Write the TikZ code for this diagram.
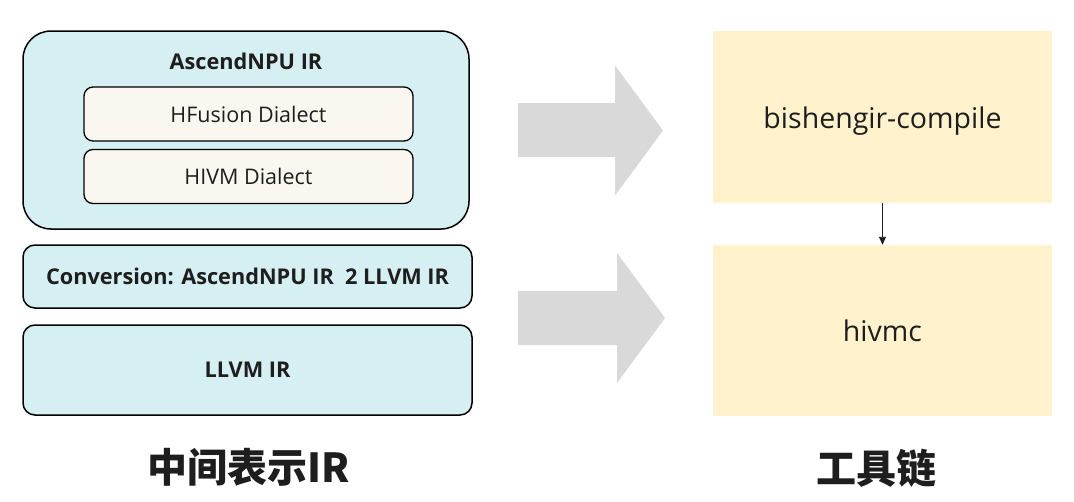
\documentclass[tikz,border=0pt]{standalone}
\usepackage{fontspec}
\setmainfont{Open Sans}
\newfontfamily\cjk{Noto Sans CJK SC}
\usetikzlibrary{arrows.meta}
\definecolor{irblue}{RGB}{213,239,243}
\definecolor{dialect}{RGB}{250,246,240}
\definecolor{toolyellow}{RGB}{255,242,204}
\definecolor{arrowgray}{RGB}{217,217,217}
\definecolor{txt}{RGB}{30,30,30}
\tikzset{
  irbox/.style={draw=black, line width=1.5pt, fill=irblue, rounded corners=12pt, inner sep=0pt},
  dialectbox/.style={draw=black, line width=1.3pt, fill=dialect, rounded corners=9pt, inner sep=0pt,
    minimum width=329pt, minimum height=54pt, font=\fontsize{21.5}{25}\selectfont, text=txt},
  toolbox/.style={fill=toolyellow, inner sep=0pt, minimum width=339pt, minimum height=172pt},
  tooltext/.style={font=\fontsize{28.5}{32}\selectfont, text=txt},
  bigarrow/.style={fill=arrowgray, draw=none},
  boldlabel/.style={font=\fontsize{21.7}{25}\selectfont\bfseries, text=txt},
  heading/.style={font=\cjk\fontsize{40}{44}\selectfont\bfseries, text=txt}
}
\begin{document}
\begin{tikzpicture}[x=1pt,y=-1pt]
\useasboundingbox[fill=white] (0,0) rectangle (1074,501);
% left column
\node[irbox, rounded corners=28pt, minimum width=446pt, minimum height=198pt] (ascend) at (246,130) {};
\node[boldlabel] (ascendt) at (246,61) {AscendNPU IR};
\node[dialectbox] (hfusion) at (248.5,114) {HFusion Dialect};
\node[dialectbox] (hivm) at (248.5,176.5) {HIVM Dialect};
\node[irbox, minimum width=449pt, minimum height=63pt, boldlabel] (conv) at (247.5,276.5) {Conversion: AscendNPU IR\ \ 2 LLVM IR};
\node[irbox, minimum width=449pt, minimum height=90pt, boldlabel] (llvm) at (247.5,370) {LLVM IR};
\node[heading] (midir) at (249,467) {中间表示IR};
% big gray arrows
\fill[bigarrow] (518,103) -- (615,103) -- (615,65.5) -- (663,130.5) -- (615,195.5) -- (615,157) -- (518,157) -- cycle;
\fill[bigarrow] (518,291) -- (617,291) -- (617,253) -- (665,318) -- (617,383) -- (617,345) -- (518,345) -- cycle;
% right column
\node[toolbox] (bisheng) at (882.5,117) {};
\node[tooltext] (bishengt) at (882.5,121) {bishengir-compile};
\node[toolbox, minimum height=171pt] (hivmc) at (882.5,330.5) {};
\node[tooltext] (hivmct) at (882.5,331) {hivmc};
\draw[line width=0.9pt, -{Triangle[length=8pt,width=7pt]}, color=txt] (bisheng.south) -- (hivmc.north);
\node[heading] (tools) at (876,468) {工具链};
\end{tikzpicture}
\end{document}
